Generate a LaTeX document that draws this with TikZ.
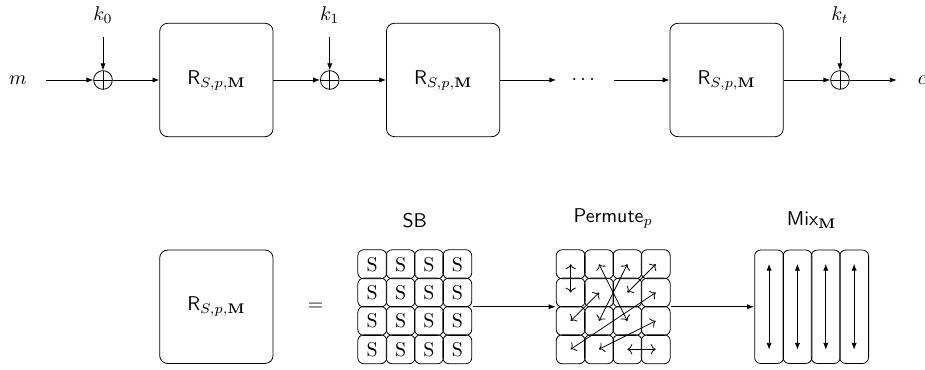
\documentclass[tikz,border=0pt]{standalone}
\usepackage{amsmath,amssymb}
\usepackage{tikz}
\usetikzlibrary{arrows.meta, positioning, calc, fit}

\begin{document}
\begin{tikzpicture}[
    node distance=2cm, on grid,
    rbox/.style={rectangle, rounded corners, draw, minimum size=2cm},
    xor/.style={circle, draw, minimum size=0.33cm, inner sep=0pt,
        path picture={\draw (path picture bounding box.north) -- (path picture bounding box.south)
                            (path picture bounding box.west) -- (path picture bounding box.east);}},
    cell/.style={rectangle, rounded corners=3pt, draw, minimum size=0.51cm, inner sep=0pt},
    col/.style={rectangle, rounded corners=3pt, draw, minimum width=0.51cm, minimum height=2cm, inner sep=0pt},
    arrow/.style={-{Latex[length=3.4pt, width=2.6pt]}},
    mixarrow/.style={{Latex[length=3.4pt, width=2.6pt]}-{Latex[length=3.4pt, width=2.6pt]}},
    permarrow/.style={<->}
]
\useasboundingbox (-1.817,-5.115) rectangle (14.5,1.411);

% 轮函数链
\node[xor] (x0) at (0,0) {};
\node[rbox, right=2cm of x0] (r1) {$\mathsf{R}_{S,p,\mathbf{M}}$};
\node[xor, right=2cm of r1] (x1) {};
\node[rbox, right=2cm of x1] (r2) {$\mathsf{R}_{S,p,\mathbf{M}}$};
\node[minimum width=1cm, right=2.5cm of r2] (dots) {$\cdots$};
\node[rbox, right=2.5cm of dots] (r3) {$\mathsf{R}_{S,p,\mathbf{M}}$};
\node[xor, right=2cm of r3] (xt) {};

% 明文与密文
\coordinate[left=1cm of x0] (min);
\node[left=1.5cm of x0] (m) {$m$};
\coordinate[right=1cm of xt] (cout);
\node[right=1.45cm of xt] (c) {$c$};

% 轮密钥
\coordinate[above=0.75cm of x0] (k0in);
\node[above=1.15cm of x0] (k0) {$k_0$};
\coordinate[above=0.75cm of x1] (k1in);
\node[above=1.15cm of x1] (k1) {$k_1$};
\coordinate[above=0.75cm of xt] (ktin);
\node[above=1.15cm of xt] (kt) {$k_t$};

% 箭头
\draw[arrow] (min) -- (x0);
\draw[arrow] (x0) -- (r1);
\draw[arrow] (r1) -- (x1);
\draw[arrow] (x1) -- (r2);
\draw[arrow] (r2) -- (dots);
\draw[arrow] (dots) -- (r3);
\draw[arrow] (r3) -- (xt);
\draw[arrow] (xt) -- (cout);
\draw[arrow] (k0in) -- (x0);
\draw[arrow] (k1in) -- (x1);
\draw[arrow] (ktin) -- (xt);

% 轮函数展开
\node[rbox, below=4cm of r1] (rr) {$\mathsf{R}_{S,p,\mathbf{M}}$};
\node[right=1.75cm of rr] (eq) {$=$};

% S盒层
\foreach \i in {0,...,3}
  \foreach \j in {0,...,3}
    \node[cell] (s\i\j) at (4.75+0.5*\i, -3.25-0.5*\j) {S};
\node[fit=(s00)(s33), inner sep=0pt] (sb) {};
\node[anchor=south] (sblbl) at ([yshift=0.25cm]sb.north) {$\mathsf{SB}$};

% 置换层
\foreach \i in {0,...,3}
  \foreach \j in {0,...,3}
    \node[cell] (p\i\j) at (8.25+0.5*\i, -3.25-0.5*\j) {};
\node[fit=(p00)(p33), inner sep=0pt] (pm) {};
\node[anchor=south] (pmlbl) at ([yshift=0.25cm]pm.north) {$\mathsf{Permute}_p$};
\foreach \a/\b in {00/01, 10/22, 20/12, 30/21, 11/02, 31/03, 32/13, 23/33}
  \draw[permarrow] (p\a.center) -- (p\b.center);

% 混合层
\foreach \i in {0,...,3} {
  \node[col] (mc\i) at (11.75+0.5*\i, -4) {};
  \draw[mixarrow] ([yshift=-0.25cm]mc\i.north) -- ([yshift=0.25cm]mc\i.south);
}
\node[fit=(mc0)(mc3), inner sep=0pt] (mx) {};
\node[anchor=south] (mxlbl) at ([yshift=0.25cm]mx.north) {$\mathsf{Mix}_{\mathbf{M}}$};

\draw[arrow] (sb) -- (pm);
\draw[arrow] (pm) -- (mx);

\end{tikzpicture}
\end{document}
